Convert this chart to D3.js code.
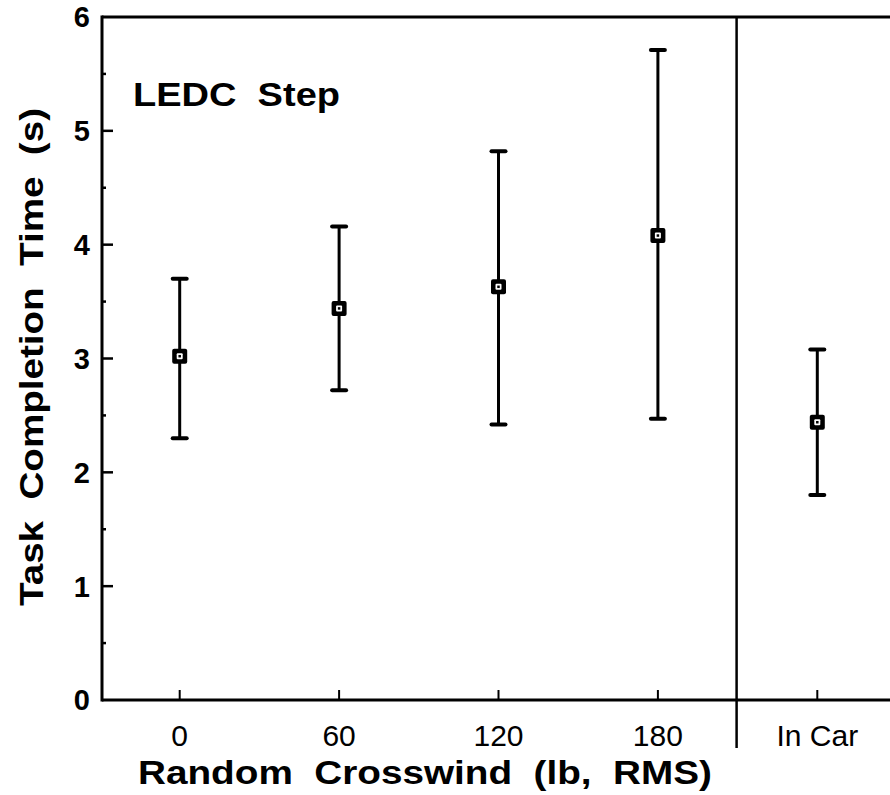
<!DOCTYPE html>
<html><head><meta charset="utf-8">
<script src="https://cdn.jsdelivr.net/npm/d3@7"></script>
<style>body{margin:0;background:#fff}svg{display:block}text{font-family:"Liberation Sans",Arial,Helvetica,sans-serif;fill:#000;white-space:pre}</style>
</head><body>
<script>
const categories = ["0", "60", "120", "180", "In Car"];
const means = [3.02, 3.44, 3.63, 4.08, 2.44];
const upper = [3.70, 4.16, 4.82, 5.71, 3.08];
const lower = [2.30, 2.72, 2.42, 2.47, 1.80];
const yTicks = [0, 1, 2, 3, 4, 5, 6];
const yMinorTicks = [0.5, 1.5, 2.5, 3.5, 4.5, 5.5];
const panelLabel = "LEDC  Step";
const xTitle = "Random  Crosswind  (lb,  RMS)";
const yTitle = "Task  Completion  Time  (s)";

(function () {
const W = 890, H = 795;
const svg = d3.select("body").append("svg").attr("width", W).attr("height", H);

const pLeft = 102, pRight = 890, pTop = 17, pBottom = 700;
const y = d3.scaleLinear().domain([0, 6]).range([pBottom, pTop]);
const x = d3.scalePoint().domain(categories).range([100, 897]).padding(0.5);

const data = categories.map((c, i) => ({c, m: means[i], hi: upper[i], lo: lower[i]}));

// frame: left axis, top border, bottom axis
svg.append("line").attr("x1", pLeft).attr("x2", pLeft).attr("y1", pTop - 1.5).attr("y2", pBottom + 1.5)
  .attr("stroke", "#000").attr("stroke-width", 3);
svg.append("line").attr("x1", pLeft).attr("x2", pRight).attr("y1", pTop).attr("y2", pTop)
  .attr("stroke", "#000").attr("stroke-width", 3);
svg.append("line").attr("x1", pLeft).attr("x2", pRight).attr("y1", pBottom).attr("y2", pBottom)
  .attr("stroke", "#000").attr("stroke-width", 3);

// separator between crosswind and In Car
const sepX = (x("180") + x("In Car")) / 2 - 1;
svg.append("line").attr("x1", sepX).attr("x2", sepX).attr("y1", pTop).attr("y2", 748)
  .attr("stroke", "#000").attr("stroke-width", 2.5);

// y ticks
svg.selectAll(".ymaj").data(yTicks.filter(d => d > 0 && d < 6)).join("line")
  .attr("x1", pLeft).attr("x2", pLeft + 11).attr("y1", d => y(d)).attr("y2", d => y(d))
  .attr("stroke", "#000").attr("stroke-width", 2.5);
svg.selectAll(".ymin").data(yMinorTicks).join("line")
  .attr("x1", pLeft).attr("x2", pLeft + 4).attr("y1", d => y(d)).attr("y2", d => y(d))
  .attr("stroke", "#000").attr("stroke-width", 2.5);
svg.selectAll(".ylab").data(yTicks).join("text")
  .attr("x", 90).attr("y", d => y(d)).attr("dy", "0.36em")
  .attr("text-anchor", "end").attr("font-size", 29).attr("font-weight", "bold")
  .text(d => d);

// x ticks
svg.selectAll(".xt").data(categories).join("line")
  .attr("x1", d => x(d)).attr("x2", d => x(d)).attr("y1", pBottom).attr("y2", pBottom - 10)
  .attr("stroke", "#000").attr("stroke-width", 2);
svg.selectAll(".xlab").data(categories).join("text")
  .attr("x", d => x(d)).attr("y", 746).attr("text-anchor", "middle")
  .attr("font-size", 30).text(d => d);

// titles
svg.append("text").attr("x", 138).attr("y", 784).attr("font-size", 33).attr("font-weight", "bold")
  .attr("textLength", 574).attr("lengthAdjust", "spacingAndGlyphs").text(xTitle);
svg.append("text").attr("transform", "translate(43,606) rotate(-90)")
  .attr("font-size", 33).attr("font-weight", "bold")
  .attr("textLength", 498).attr("lengthAdjust", "spacingAndGlyphs").text(yTitle);
svg.append("text").attr("x", 133).attr("y", 106).attr("font-size", 33).attr("font-weight", "bold")
  .attr("textLength", 207).attr("lengthAdjust", "spacingAndGlyphs").text(panelLabel);

// error bars
const g = svg.append("g");
g.selectAll(".eb").data(data).join("line")
  .attr("x1", d => x(d.c)).attr("x2", d => x(d.c))
  .attr("y1", d => y(d.hi)).attr("y2", d => y(d.lo))
  .attr("stroke", "#000").attr("stroke-width", 3);
g.selectAll(".capHi").data(data).join("line")
  .attr("x1", d => x(d.c) - 7).attr("x2", d => x(d.c) + 7)
  .attr("y1", d => y(d.hi)).attr("y2", d => y(d.hi))
  .attr("stroke", "#000").attr("stroke-width", 4).attr("stroke-linecap", "round");
g.selectAll(".capLo").data(data).join("line")
  .attr("x1", d => x(d.c) - 7).attr("x2", d => x(d.c) + 7)
  .attr("y1", d => y(d.lo)).attr("y2", d => y(d.lo))
  .attr("stroke", "#000").attr("stroke-width", 4).attr("stroke-linecap", "round");

// markers
g.selectAll(".mk").data(data).join("rect")
  .attr("x", d => x(d.c) - 7.5).attr("y", d => y(d.m) - 7.5).attr("width", 15).attr("height", 15)
  .attr("rx", 2).attr("fill", "#000");
g.selectAll(".mkin").data(data).join("rect")
  .attr("x", d => x(d.c) - 3).attr("y", d => y(d.m) - 3).attr("width", 6).attr("height", 6)
  .attr("rx", 1).attr("fill", "#fff");
g.selectAll(".mkdot").data(data).join("rect")
  .attr("x", d => x(d.c) - 1.25).attr("y", d => y(d.m) - 1.25).attr("width", 2.5).attr("height", 2.5)
  .attr("fill", "#000");
})();
</script>
</body></html>
